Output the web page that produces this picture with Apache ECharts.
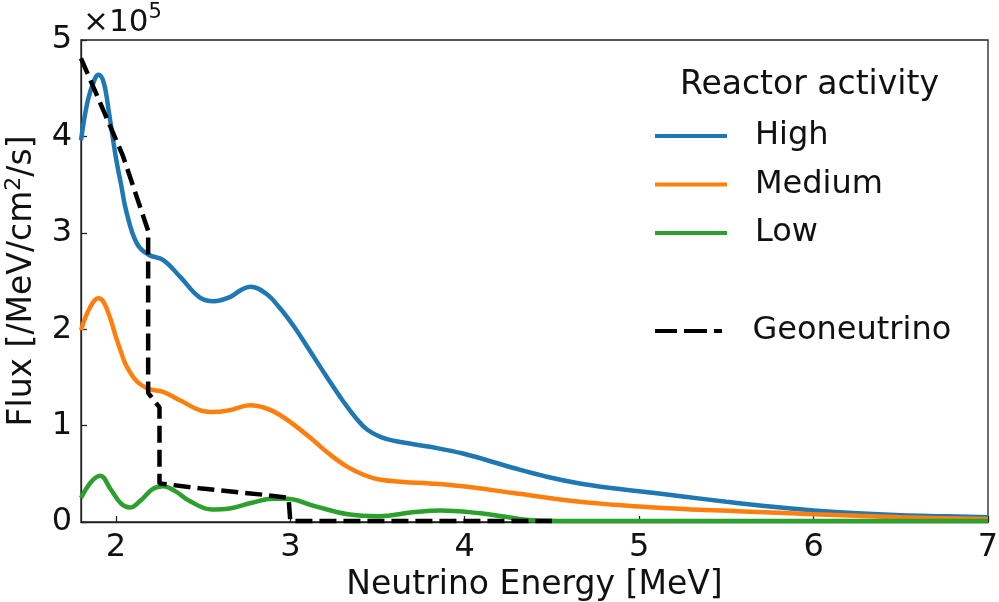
<!DOCTYPE html>
<html>
<head>
<meta charset="utf-8">
<script src="https://cdn.jsdelivr.net/npm/echarts@6/dist/echarts.min.js"></script>
<style>html,body{margin:0;padding:0;background:#fff}#c{width:999px;height:602px}</style>
</head>
<body>
<div id="c"></div>
<script>
// Values in units of 1e5 /MeV/cm^2/s
const highData = [[1.80,3.96],[1.84,4.38],[1.88,4.60],[1.90,4.64],[1.93,4.56],[1.96,4.25],[2.00,3.78],[2.03,3.50],[2.06,3.22],[2.12,2.89],[2.19,2.77],[2.27,2.72],[2.37,2.54],[2.48,2.33],[2.56,2.29],[2.65,2.33],[2.72,2.41],[2.77,2.44],[2.86,2.37],[2.94,2.22],[3.02,2.03],[3.10,1.81],[3.20,1.53],[3.30,1.26],[3.38,1.07],[3.44,0.96],[3.52,0.88],[3.60,0.84],[3.80,0.78],[3.99,0.71],[4.28,0.56],[4.47,0.47],[4.66,0.40],[4.85,0.35],[5.00,0.32],[5.25,0.265],[5.50,0.21],[5.75,0.16],[6.00,0.12],[6.25,0.09],[6.50,0.07],[6.75,0.06],[7.00,0.05]];
const mediumData = [[1.80,1.99],[1.85,2.22],[1.90,2.32],[1.93,2.28],[1.97,2.10],[2.00,1.92],[2.03,1.76],[2.06,1.62],[2.12,1.46],[2.19,1.38],[2.27,1.35],[2.37,1.26],[2.48,1.16],[2.56,1.14],[2.65,1.16],[2.77,1.21],[2.86,1.18],[2.94,1.11],[3.02,1.01],[3.13,0.85],[3.22,0.71],[3.32,0.58],[3.42,0.49],[3.51,0.44],[3.65,0.415],[3.80,0.40],[3.99,0.37],[4.28,0.30],[4.66,0.21],[4.85,0.18],[5.00,0.16],[5.30,0.13],[5.60,0.11],[6.00,0.08],[6.50,0.05],[7.00,0.03]];
const lowData = [[1.80,0.25],[1.86,0.42],[1.91,0.48],[1.97,0.34],[2.03,0.19],[2.08,0.15],[2.14,0.22],[2.21,0.34],[2.27,0.37],[2.34,0.32],[2.42,0.22],[2.55,0.13],[2.65,0.14],[2.78,0.20],[2.90,0.24],[2.98,0.24],[3.13,0.17],[3.33,0.08],[3.51,0.06],[3.70,0.10],[3.86,0.12],[4.09,0.09],[4.25,0.05],[4.37,0.02],[4.60,0.01],[5.50,0.01],[7.00,0.01]];
const geoData = [[1.80,4.81],[2.04,3.80],[2.185,3.02],[2.185,1.34],[2.25,1.19],[2.25,0.40],[2.48,0.35],[2.86,0.28],[2.99,0.25],[3.00,0.01],[4.50,0.01]];
const yTicks = [0,1,2,3,4,5];
const xTicks = [2,3,4,5,6,7];
const colors = ['#1f77b4','#ff7f0e','#2ca02c','#000000'];
const font = 'DejaVu Sans';
const solidIcon = 'path://M0,0H72V4H0Z';
const dashIcon = 'path://M0,0H22V4H0Z M29,0H52V4H29Z M59,0H67V4H59Z';

const chart = echarts.init(document.getElementById('c'));
const mkLine = (name, data, color) => ({
  name, type:'line', data, smooth:0.4, symbol:'none',
  lineStyle:{color, width:4.5}, itemStyle:{color}, z:3
});
const legTxt = {fontFamily:font,fontSize:32,lineHeight:32,color:'#111',padding:[0,0,0,23]};
chart.setOption({
  animation:false,
  grid:{left:81,right:11,top:40,bottom:80,show:true,borderColor:'#222',borderWidth:1.3,
    backgroundColor:'transparent',outerBoundsMode:'none',containLabel:false},
  xAxis:{type:'value',min:1.8,max:7,splitNumber:5,
    name:'Neutrino Energy [MeV]',nameLocation:'middle',nameGap:43,
    nameTextStyle:{fontFamily:font,fontSize:33,color:'#111'},
    axisLine:{show:true,lineStyle:{color:'#222',width:1.3}},
    axisTick:{show:true,inside:true,length:6,lineStyle:{color:'#222',width:1.3}},
    axisLabel:{fontFamily:font,fontSize:32,color:'#111',margin:10,showMinLabel:false,
      formatter:v=>xTicks.includes(Math.round(v*1000)/1000)?String(Math.round(v)):''},
    splitLine:{show:false}},
  yAxis:{type:'value',min:yTicks[0],max:yTicks[yTicks.length-1],interval:1,
    name:'{m|Flux [/MeV/cm}{s|2}{m|/s]}',nameLocation:'middle',nameGap:42,nameRotate:90,
    nameTextStyle:{fontFamily:font,fontSize:33,color:'#111',
      rich:{m:{fontFamily:font,fontSize:33,color:'#111',lineHeight:36,verticalAlign:'bottom'},
            s:{fontFamily:font,fontSize:22,color:'#111',lineHeight:36,verticalAlign:'top'}}},
    axisLine:{show:true,lineStyle:{color:'#222',width:1.3}},
    axisTick:{show:true,inside:true,length:6,lineStyle:{color:'#222',width:1.3}},
    axisLabel:{fontFamily:font,fontSize:32,color:'#111',margin:9,formatter:v=>String(v)},
    splitLine:{show:false}},
  legend:[
    {data:[{name:'High',icon:solidIcon},{name:'Medium',icon:solidIcon},{name:'Low',icon:solidIcon}],
      orient:'vertical',left:655,top:120,padding:0,itemWidth:72,itemHeight:4,itemGap:16.5,textStyle:legTxt},
    {data:[{name:'Geoneutrino',icon:dashIcon}],orient:'vertical',left:655,top:315,padding:0,
      itemWidth:72,itemHeight:4,textStyle:legTxt}
  ],
  graphic:[
    {type:'text',left:680,top:69,style:{text:'Reactor activity',font:'33px "DejaVu Sans"',fill:'#111'}},
    {type:'text',left:83,top:2,style:{text:'{m|×10}{s|5}',fill:'#111',
      rich:{m:{fontFamily:font,fontSize:31,lineHeight:36,verticalAlign:'bottom',fill:'#111'},
            s:{fontFamily:font,fontSize:21,lineHeight:36,verticalAlign:'top',fill:'#111'}}}}
  ],
  series:[
    mkLine('High',highData,colors[0]),
    mkLine('Medium',mediumData,colors[1]),
    mkLine('Low',lowData,colors[2]),
    {name:'Geoneutrino',type:'line',data:geoData,smooth:false,symbol:'none',
      lineStyle:{color:colors[3],width:4.5,type:[17,7]},itemStyle:{color:colors[3]},z:4}
  ]
});
</script>
</body>
</html>
